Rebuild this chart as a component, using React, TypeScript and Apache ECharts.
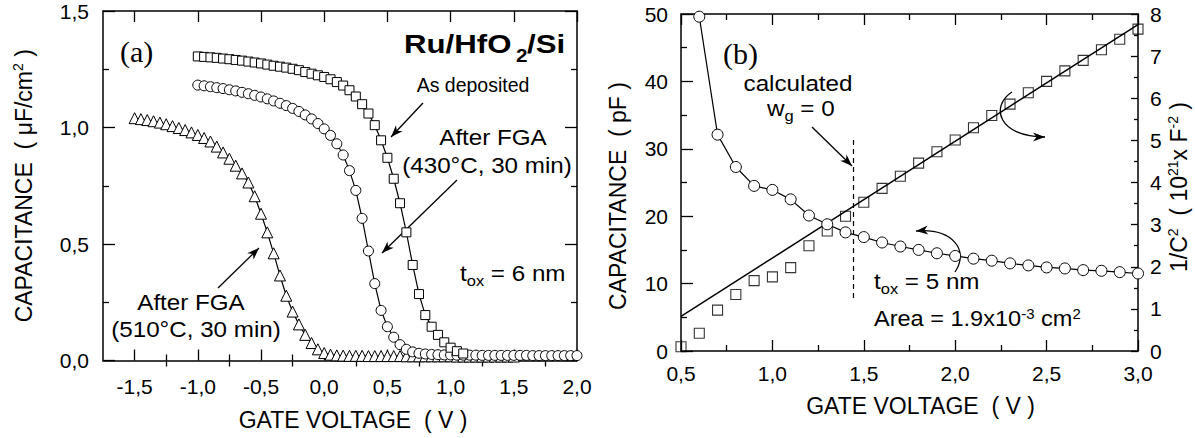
import React, { useEffect, useRef } from 'react';
import * as echarts from 'echarts';

const FONT = '"Liberation Sans", Arial, Helvetica, sans-serif';
const SERIF = '"Liberation Serif", "Times New Roman", serif';

// ---------- Panel (a): C-V curves, Ru/HfO2/Si ----------
const majorTickA = [-1.5, -1.0, -0.5, 0.0, 0.5, 1.0, 1.5, 2.0];
const minorTickA = [-1.25, -0.75, -0.25, 0.25, 0.75, 1.25, 1.75];

// After FGA 510°C (triangles)
const vTri = [-1.5, -1.45, -1.4, -1.35, -1.3, -1.25, -1.2, -1.15, -1.1, -1.05, -1.0, -0.95, -0.9, -0.85, -0.8, -0.75, -0.7, -0.65, -0.6, -0.55, -0.5, -0.45, -0.4, -0.35, -0.3, -0.25, -0.2, -0.15, -0.1, -0.05, 0.0, 0.05, 0.1, 0.15, 0.2, 0.25, 0.3, 0.35, 0.4, 0.45, 0.5, 0.55, 0.6, 0.65, 0.7, 0.75, 0.8, 0.85, 0.9, 0.95, 1.0, 1.05, 1.1, 1.15, 1.2, 1.25, 1.3, 1.35, 1.4, 1.45, 1.5];
const cTri = [1.040, 1.036, 1.032, 1.027, 1.021, 1.014, 1.006, 0.998, 0.989, 0.979, 0.968, 0.955, 0.940, 0.918, 0.893, 0.866, 0.836, 0.803, 0.764, 0.705, 0.630, 0.550, 0.460, 0.365, 0.278, 0.210, 0.155, 0.110, 0.075, 0.048, 0.032, 0.025, 0.022, 0.021, 0.020, 0.020, 0.020, 0.019, 0.019, 0.019, 0.019, 0.019, 0.019, 0.018, 0.018, 0.018, 0.018, 0.018, 0.018, 0.018, 0.018, 0.017, 0.017, 0.017, 0.017, 0.017, 0.017, 0.017, 0.017, 0.017, 0.017];

// After FGA 430°C (circles)
const vCirc = [-1.0, -0.95, -0.9, -0.85, -0.8, -0.75, -0.7, -0.65, -0.6, -0.55, -0.5, -0.45, -0.4, -0.35, -0.3, -0.25, -0.2, -0.15, -0.1, -0.05, 0.0, 0.05, 0.1, 0.15, 0.2, 0.25, 0.3, 0.35, 0.4, 0.45, 0.5, 0.55, 0.6, 0.65, 0.7, 0.75, 0.8, 0.85, 0.9, 0.95, 1.0, 1.05, 1.1, 1.15, 1.2, 1.25, 1.3, 1.35, 1.4, 1.45, 1.5, 1.55, 1.6, 1.65, 1.7, 1.75, 1.8, 1.85, 1.9, 1.95, 2.0];
const cCirc = [1.182, 1.179, 1.175, 1.171, 1.167, 1.162, 1.157, 1.151, 1.145, 1.138, 1.131, 1.123, 1.114, 1.104, 1.094, 1.082, 1.069, 1.054, 1.037, 1.017, 0.994, 0.966, 0.930, 0.882, 0.815, 0.730, 0.610, 0.470, 0.330, 0.215, 0.145, 0.100, 0.068, 0.048, 0.037, 0.031, 0.028, 0.026, 0.025, 0.024, 0.024, 0.023, 0.023, 0.023, 0.023, 0.022, 0.022, 0.022, 0.022, 0.022, 0.022, 0.022, 0.022, 0.021, 0.021, 0.021, 0.021, 0.021, 0.021, 0.021, 0.021];

// As deposited (squares)
const vSq = [-1.0, -0.95, -0.9, -0.85, -0.8, -0.75, -0.7, -0.65, -0.6, -0.55, -0.5, -0.45, -0.4, -0.35, -0.3, -0.25, -0.2, -0.15, -0.1, -0.05, 0.0, 0.05, 0.1, 0.15, 0.2, 0.25, 0.3, 0.35, 0.4, 0.45, 0.5, 0.55, 0.6, 0.65, 0.7, 0.75, 0.8, 0.85, 0.9, 0.95, 1.0, 1.05, 1.1];
const cSq = [1.305, 1.303, 1.301, 1.299, 1.296, 1.293, 1.290, 1.287, 1.283, 1.279, 1.275, 1.270, 1.265, 1.261, 1.257, 1.252, 1.246, 1.238, 1.231, 1.224, 1.217, 1.207, 1.195, 1.180, 1.160, 1.133, 1.100, 1.060, 1.010, 0.945, 0.870, 0.780, 0.675, 0.550, 0.410, 0.285, 0.195, 0.145, 0.110, 0.078, 0.055, 0.040, 0.030];

// ---------- Panel (b): C-V and 1/C^2 ----------
const vCapB = [0.6, 0.7, 0.8, 0.9, 1.0, 1.1, 1.2, 1.3, 1.4, 1.5, 1.6, 1.7, 1.8, 1.9, 2.0, 2.1, 2.2, 2.3, 2.4, 2.5, 2.6, 2.7, 2.8, 2.9, 3.0];
const capB = [49.6, 32.1, 27.3, 24.5, 23.9, 22.5, 20.1, 18.8, 17.6, 16.9, 16.1, 15.5, 15.0, 14.5, 14.1, 13.7, 13.4, 13.0, 12.7, 12.4, 12.25, 12.0, 11.9, 11.7, 11.5];

const vInvB = [0.5, 0.6, 0.7, 0.8, 0.9, 1.0, 1.1, 1.2, 1.3, 1.4, 1.5, 1.6, 1.7, 1.8, 1.9, 2.0, 2.1, 2.2, 2.3, 2.4, 2.5, 2.6, 2.7, 2.8, 2.9, 3.0];
const invC2B = [0.10, 0.42, 0.97, 1.34, 1.67, 1.76, 1.98, 2.50, 2.85, 3.20, 3.53, 3.86, 4.15, 4.46, 4.73, 5.01, 5.30, 5.59, 5.86, 6.13, 6.40, 6.65, 6.90, 7.15, 7.40, 7.64];

const fitV = [0.5, 3.0];
const fitInvC2 = [0.82, 7.75];

const wgVoltage = 1.44;
const wgCapRange = [7.8, 31.3];

const pairs = (xs: number[], ys: number[]) => xs.map((x, i) => [x, ys[i]]);
const comma = (v: number) => v.toFixed(1).replace('.', ',');

const BLACK = '#000';
const axisLine = { show: true, onZero: false, lineStyle: { color: BLACK, width: 1.5 } };
const tickLine = { color: BLACK, width: 1.3 };
const labelStyle = { color: BLACK, fontSize: 21, fontFamily: FONT };
const supRich = { u: { fontSize: 14, fontFamily: FONT, lineHeight: 10, verticalAlign: 'top', color: BLACK } };
const nameStyle = { color: BLACK, fontSize: 23, fontFamily: FONT, lineHeight: 26, rich: supRich };
const STRETCH = 1.1;

function arrowHead(fx: number, fy: number, tx: number, ty: number) {
  const dx = tx - fx, dy = ty - fy;
  const l = Math.hypot(dx, dy);
  const ux = dx / l, uy = dy / l, nx = -uy, ny = ux;
  const L = 12, W = 4.5, N = 3.5;
  return {
    type: 'polygon',
    shape: {
      points: [
        [tx, ty],
        [tx - L * ux + W * nx, ty - L * uy + W * ny],
        [tx - (L - N) * ux, ty - (L - N) * uy],
        [tx - L * ux - W * nx, ty - L * uy - W * ny],
      ],
    },
    style: { fill: BLACK },
  };
}

function straightArrow(fx: number, fy: number, tx: number, ty: number) {
  return [
    { type: 'line', shape: { x1: fx, y1: fy, x2: tx, y2: ty }, style: { stroke: BLACK, lineWidth: 1.3 } },
    arrowHead(fx, fy, tx, ty),
  ];
}

function curvedArrow(p0: number[], c1: number[], c2: number[], p3: number[]) {
  return [
    {
      type: 'bezierCurve',
      shape: { x1: p0[0], y1: p0[1], cpx1: c1[0], cpy1: c1[1], cpx2: c2[0], cpy2: c2[1], x2: p3[0], y2: p3[1] },
      style: { stroke: BLACK, lineWidth: 1.3, fill: null },
    },
    arrowHead(c2[0], c2[1], p3[0], p3[1]),
  ];
}

const richBase = {
  m: { fontSize: 22, fontFamily: FONT, lineHeight: 26, verticalAlign: 'top', fill: BLACK },
  s: { fontSize: 15, fontFamily: FONT, lineHeight: 15, verticalAlign: 'bottom', fill: BLACK },
  u: { fontSize: 14, fontFamily: FONT, lineHeight: 10, verticalAlign: 'top', fill: BLACK },
};

function label(text: string, x: number, y: number, align = 'center', size = 22, sx = STRETCH, weight = 'normal') {
  return {
    type: 'text',
    x,
    y,
    scaleX: sx,
    style: { text, fontSize: size, fontFamily: FONT, fontWeight: weight, fill: BLACK, align, verticalAlign: 'middle' },
  };
}

function richLabel(text: string, x: number, y: number, sx = STRETCH) {
  return {
    type: 'text',
    x,
    y,
    scaleX: sx,
    style: { text, rich: richBase, align: 'left', verticalAlign: 'middle', fill: BLACK },
  };
}

export default function App() {
  const ref = useRef<HTMLDivElement>(null);

  useEffect(() => {
    document.body.style.margin = '0';
    const chart = echarts.init(ref.current!, null, { renderer: 'svg' });

    const graphic: any[] = [
      // panel (a)
      { type: 'text', x: 120, y: 51, style: { text: '(a)', fontSize: 30, fontFamily: SERIF, fill: BLACK, align: 'left', verticalAlign: 'middle' } },
      label('Ru/HfO', 404, 44, 'left', 26, 1.2, 'bold'),
      label('2', 516, 56, 'left', 18, 1.15, 'bold'),
      label('/Si', 527, 44, 'left', 26, 1.2, 'bold'),
      label('As deposited', 473, 85, 'center', 19.5, 1.0),
      ...straightArrow(423, 103, 391, 137),
      label('After FGA', 493, 137),
      label('(430°C, 30 min)', 487, 165),
      ...straightArrow(457, 180, 382, 253),
      richLabel('{m|t}{s|ox}{m| = 6 nm}', 460, 275),
      label('After FGA', 191, 302),
      label('(510°C, 30 min)', 196, 329),
      ...straightArrow(218, 288, 259, 248),
      // panel (b)
      { type: 'text', x: 723, y: 53, style: { text: '(b)', fontSize: 30, fontFamily: SERIF, fill: BLACK, align: 'left', verticalAlign: 'middle' } },
      label('calculated', 798, 83),
      richLabel('{m|w}{s|g}{m| = 0}', 767, 110),
      ...straightArrow(812, 127, 852, 166),
      richLabel('{m|t}{s|ox}{m| = 5 nm}', 874, 283),
      richLabel('{m|Area = 1.9x10}{u|-3}{m| cm}{u|2}', 874, 320, 1.07),
      ...curvedArrow([1012, 92], [990, 106], [998, 137], [1045, 137]),
      ...curvedArrow([955, 272], [970, 250], [952, 228], [916, 231]),
      {
        type: 'text',
        x: 618,
        y: 196,
        rotation: Math.PI / 2,
        style: { text: 'CAPACITANCE  ( pF )', fontSize: 23, fontFamily: FONT, fill: BLACK, align: 'center', verticalAlign: 'middle' },
      },
    ];

    const option: any = {
      animation: false,
      backgroundColor: '#fff',
      textStyle: { fontFamily: FONT },
      grid: [
        { left: 103, top: 11, width: 474, height: 349.5, outerBoundsMode: 'none', containLabel: false },
        { left: 681, top: 14, width: 457, height: 337, outerBoundsMode: 'none', containLabel: false },
      ],
      xAxis: [
        {
          gridIndex: 0, type: 'value', min: -1.75, max: 2.0, position: 'bottom',
          axisLine,
          axisTick: { show: true, inside: true, length: 11, customValues: majorTickA, lineStyle: tickLine },
          axisLabel: { show: true, customValues: majorTickA, formatter: comma, margin: 15, ...labelStyle },
          splitLine: { show: false },
          name: 'GATE VOLTAGE  ( V )', nameLocation: 'middle', nameGap: 46,
          nameTextStyle: { ...nameStyle, padding: [0, 0, 0, 26] },
        },
        {
          gridIndex: 0, type: 'value', min: -1.75, max: 2.0, position: 'bottom',
          axisLine: { show: false },
          axisTick: { show: true, inside: true, length: 6, customValues: minorTickA, lineStyle: tickLine },
          axisLabel: { show: false },
          splitLine: { show: false },
        },
        {
          gridIndex: 0, type: 'value', min: -1.75, max: 2.0, position: 'top',
          axisLine,
          axisTick: { show: true, inside: true, length: 11, customValues: majorTickA, lineStyle: tickLine },
          axisLabel: { show: false },
          splitLine: { show: false },
        },
        {
          gridIndex: 0, type: 'value', min: -1.75, max: 2.0, position: 'top',
          axisLine: { show: false },
          axisTick: { show: true, inside: true, length: 6, customValues: minorTickA, lineStyle: tickLine },
          axisLabel: { show: false },
          splitLine: { show: false },
        },
        {
          gridIndex: 1, type: 'value', min: 0.5, max: 3.0, interval: 0.5, position: 'bottom',
          axisLine,
          axisTick: { show: true, inside: true, length: 11, lineStyle: tickLine },
          minorTick: { show: true, splitNumber: 2, length: 6, lineStyle: tickLine },
          axisLabel: { show: true, formatter: comma, margin: 12, ...labelStyle },
          splitLine: { show: false },
          name: 'GATE VOLTAGE  ( V )', nameLocation: 'middle', nameGap: 42,
          nameTextStyle: { ...nameStyle, padding: [0, 0, 0, 22] },
        },
        {
          gridIndex: 1, type: 'value', min: 0.5, max: 3.0, interval: 0.5, position: 'top',
          axisLine,
          axisTick: { show: true, inside: true, length: 11, lineStyle: tickLine },
          minorTick: { show: true, splitNumber: 2, length: 6, lineStyle: tickLine },
          axisLabel: { show: false },
          splitLine: { show: false },
        },
      ],
      yAxis: [
        {
          gridIndex: 0, type: 'value', min: 0, max: 1.5, interval: 0.5, position: 'left',
          axisLine,
          axisTick: { show: true, inside: true, length: 12, lineStyle: tickLine },
          minorTick: { show: true, splitNumber: 2, length: 6, lineStyle: tickLine },
          axisLabel: { show: true, formatter: comma, margin: 14, ...labelStyle },
          splitLine: { show: false },
          name: 'CAPACITANCE  ( μF/cm{u|2} )', nameLocation: 'middle', nameGap: 66,
          nameTextStyle: { ...nameStyle },
        },
        {
          gridIndex: 0, type: 'value', min: 0, max: 1.5, interval: 0.5, position: 'right',
          axisLine,
          axisTick: { show: true, inside: true, length: 12, lineStyle: tickLine },
          minorTick: { show: true, splitNumber: 2, length: 6, lineStyle: tickLine },
          axisLabel: { show: false },
          splitLine: { show: false },
        },
        {
          gridIndex: 1, type: 'value', min: 0, max: 50, interval: 10, position: 'left',
          axisLine,
          axisTick: { show: true, inside: true, length: 12, lineStyle: tickLine },
          minorTick: { show: true, splitNumber: 2, length: 6, lineStyle: tickLine },
          axisLabel: { show: true, margin: 13, ...labelStyle },
          splitLine: { show: false },
        },
        {
          gridIndex: 1, type: 'value', min: 0, max: 8, interval: 1, position: 'right',
          axisLine,
          axisTick: { show: true, inside: true, length: 7, lineStyle: tickLine },
          minorTick: { show: true, splitNumber: 2, length: 4, lineStyle: tickLine },
          axisLabel: { show: true, margin: 12, ...labelStyle },
          splitLine: { show: false },
          name: '1/C{u|2}  ( 10{u|21}x F{u|-2} )', nameLocation: 'middle', nameGap: 28,
          nameTextStyle: { ...nameStyle, padding: [0, 9, 0, 0] },
        },
      ],
      series: [
        {
          name: 'After FGA 510°C', type: 'line', xAxisIndex: 0, yAxisIndex: 0,
          data: pairs(vTri, cTri), symbol: 'triangle', symbolSize: 11, showAllSymbol: true,
          lineStyle: { color: BLACK, width: 1.2 }, itemStyle: { color: '#fff', borderColor: BLACK, borderWidth: 1 },
        },
        {
          name: 'After FGA 430°C', type: 'line', xAxisIndex: 0, yAxisIndex: 0,
          data: pairs(vCirc, cCirc), symbol: 'circle', symbolSize: 10, showAllSymbol: true,
          lineStyle: { color: BLACK, width: 1.2 }, itemStyle: { color: '#fff', borderColor: BLACK, borderWidth: 1 },
        },
        {
          name: 'As deposited', type: 'line', xAxisIndex: 0, yAxisIndex: 0,
          data: pairs(vSq, cSq), symbol: 'rect', symbolSize: 9, showAllSymbol: true,
          lineStyle: { color: BLACK, width: 1.2 }, itemStyle: { color: '#fff', borderColor: BLACK, borderWidth: 1 },
        },
        {
          name: 'Capacitance', type: 'line', xAxisIndex: 4, yAxisIndex: 2,
          data: pairs(vCapB, capB), symbol: 'circle', symbolSize: 11, showAllSymbol: true,
          lineStyle: { color: BLACK, width: 1.2 }, itemStyle: { color: '#fff', borderColor: BLACK, borderWidth: 1 },
          markLine: {
            silent: true, symbol: ['none', 'none'], label: { show: false },
            lineStyle: { color: BLACK, width: 1.2, type: [5, 4] },
            data: [[{ coord: [wgVoltage, wgCapRange[1]] }, { coord: [wgVoltage, wgCapRange[0]] }]],
          },
        },
        {
          name: 'Fit', type: 'line', xAxisIndex: 4, yAxisIndex: 3,
          data: pairs(fitV, fitInvC2), showSymbol: false,
          lineStyle: { color: BLACK, width: 1.5 },
        },
        {
          name: '1/C2', type: 'scatter', xAxisIndex: 4, yAxisIndex: 3,
          data: pairs(vInvB, invC2B), symbol: 'rect', symbolSize: 10,
          itemStyle: { color: 'rgba(255,255,255,0)', borderColor: BLACK, borderWidth: 1.1 },
        },
      ],
      graphic,
    };

    chart.setOption(option);
    return () => chart.dispose();
  }, []);

  return <div ref={ref} style={{ width: 1195, height: 438 }} />;
}
